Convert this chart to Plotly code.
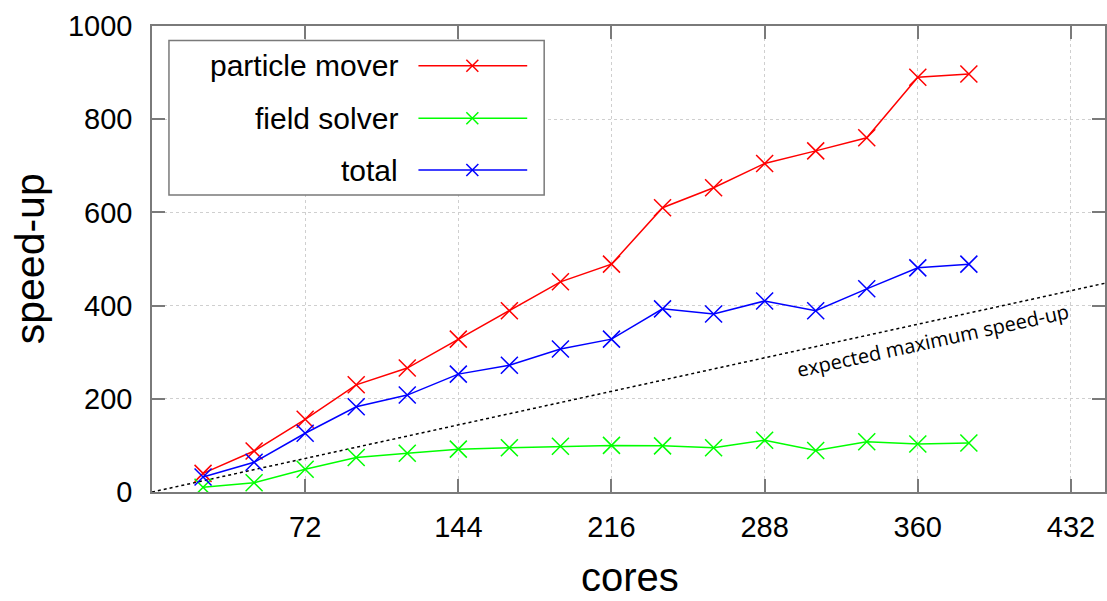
import plotly.graph_objects as go

# ---- data ----
cores = [24, 48, 72, 96, 120, 144, 168, 192, 216, 240, 264, 288, 312, 336, 360, 384]
particle_mover = [40, 88, 156, 230, 266, 328, 389, 451, 489, 610, 653, 705, 732, 760, 890, 897]
field_solver = [10, 20, 49, 74, 83, 92, 95, 98, 100, 99, 95, 111, 89, 108, 103, 105]
total = [32, 64, 126, 183, 208, 253, 272, 307, 328, 393, 382, 410, 389, 436, 481, 489]
expected_cores = [0, 448]
expected_speedup = [0, 448]

series_names = ["particle mover", "field solver", "total"]
series_values = [particle_mover, field_solver, total]
series_colors = ["#ff0000", "#00ff00", "#0000ff"]

x_ticks = [72, 144, 216, 288, 360, 432]
y_ticks = [0, 200, 400, 600, 800, 1000]

W, H = 1107, 601
L, R, T, B = 152, 0, 26, 109
PW = W - L - R
PH = H - T - B


def px(x):
    return (x - L) / PW


def py(y):
    return (H - B - y) / PH


FONT = "Liberation Sans, Arial, sans-serif"
AXC = "#7a7a7a"
GRIDC = "#cfcfcf"

fig = go.Figure()

fig.add_trace(go.Scatter(
    x=expected_cores, y=expected_speedup, mode="lines",
    line=dict(color="black", width=1.5, dash="dot"),
    hoverinfo="skip", showlegend=False))

for name, vals, col in zip(series_names, series_values, series_colors):
    fig.add_trace(go.Scatter(
        x=cores, y=vals, mode="lines+markers", name=name,
        line=dict(color=col, width=1.5),
        marker=dict(symbol="x-thin", size=17, line=dict(color=col, width=1.5)),
        showlegend=False))

fig.update_layout(
    width=W, height=H,
    margin=dict(l=L, r=R, t=T, b=B),
    paper_bgcolor="white", plot_bgcolor="white",
    font=dict(family=FONT, color="black"),
    showlegend=False,
)

fig.update_xaxes(
    range=[0, 448], tickvals=x_ticks, ticktext=[str(v) for v in x_ticks],
    tickfont=dict(size=29, family=FONT, color="black"),
    showgrid=True, gridcolor=GRIDC, griddash="dot", gridwidth=1,
    showline=True, linecolor=AXC, linewidth=1.5, mirror="ticks",
    ticks="inside", ticklen=13, tickcolor=AXC, tickwidth=1.5,
    zeroline=False, ticklabelstandoff=8,
)
fig.update_yaxes(
    range=[0, 1000], tickvals=y_ticks, ticktext=[str(v) for v in y_ticks],
    tickfont=dict(size=29, family=FONT, color="black"),
    showgrid=True, gridcolor=GRIDC, griddash="dot", gridwidth=1,
    showline=True, linecolor=AXC, linewidth=1.5, mirror="ticks",
    ticks="inside", ticklen=13, tickcolor=AXC, tickwidth=1.5,
    zeroline=False, ticklabelstandoff=12,
)

annotations = []
# axis titles
annotations.append(dict(text="cores", xref="paper", yref="paper",
                        x=px(631), y=py(601), xanchor="center", yanchor="bottom",
                        showarrow=False, font=dict(size=40, family=FONT, color="black")))
annotations.append(dict(text="speed-up", xref="paper", yref="paper",
                        x=px(30), y=py(259), xanchor="center", yanchor="middle",
                        textangle=-90, showarrow=False,
                        font=dict(size=41, family=FONT, color="black")))
# expected line label
annotations.append(dict(text="expected maximum speed-up", x=367, y=326,
                        xanchor="center", yanchor="middle", textangle=-12.3,
                        showarrow=False,
                        font=dict(size=20, family="Open Sans, sans-serif", color="black")))

shapes = []
# manual gnuplot-style legend
shapes.append(dict(type="rect", xref="paper", yref="paper",
                   x0=px(169), x1=px(545), y0=py(195), y1=py(40.5),
                   line=dict(color=AXC, width=1.5), fillcolor="white", layer="above"))
row_y = [65.7, 118.3, 170]
for name, col, yy in zip(series_names, series_colors, row_y):
    annotations.append(dict(text=name, xref="paper", yref="paper",
                            x=px(401), y=py(yy), xanchor="right", yanchor="middle",
                            showarrow=False, font=dict(size=30, family=FONT, color="black")))
    shapes.append(dict(type="line", xref="paper", yref="paper",
                       x0=px(419), x1=px(528), y0=py(yy), y1=py(yy),
                       line=dict(color=col, width=1.5), layer="above"))
    s = 6
    shapes.append(dict(type="line", xref="paper", yref="paper",
                       x0=px(473 - s), x1=px(473 + s), y0=py(yy - s), y1=py(yy + s),
                       line=dict(color=col, width=1.5), layer="above"))
    shapes.append(dict(type="line", xref="paper", yref="paper",
                       x0=px(473 - s), x1=px(473 + s), y0=py(yy + s), y1=py(yy - s),
                       line=dict(color=col, width=1.5), layer="above"))

fig.update_layout(annotations=annotations, shapes=shapes)

fig.write_html("out.html")
